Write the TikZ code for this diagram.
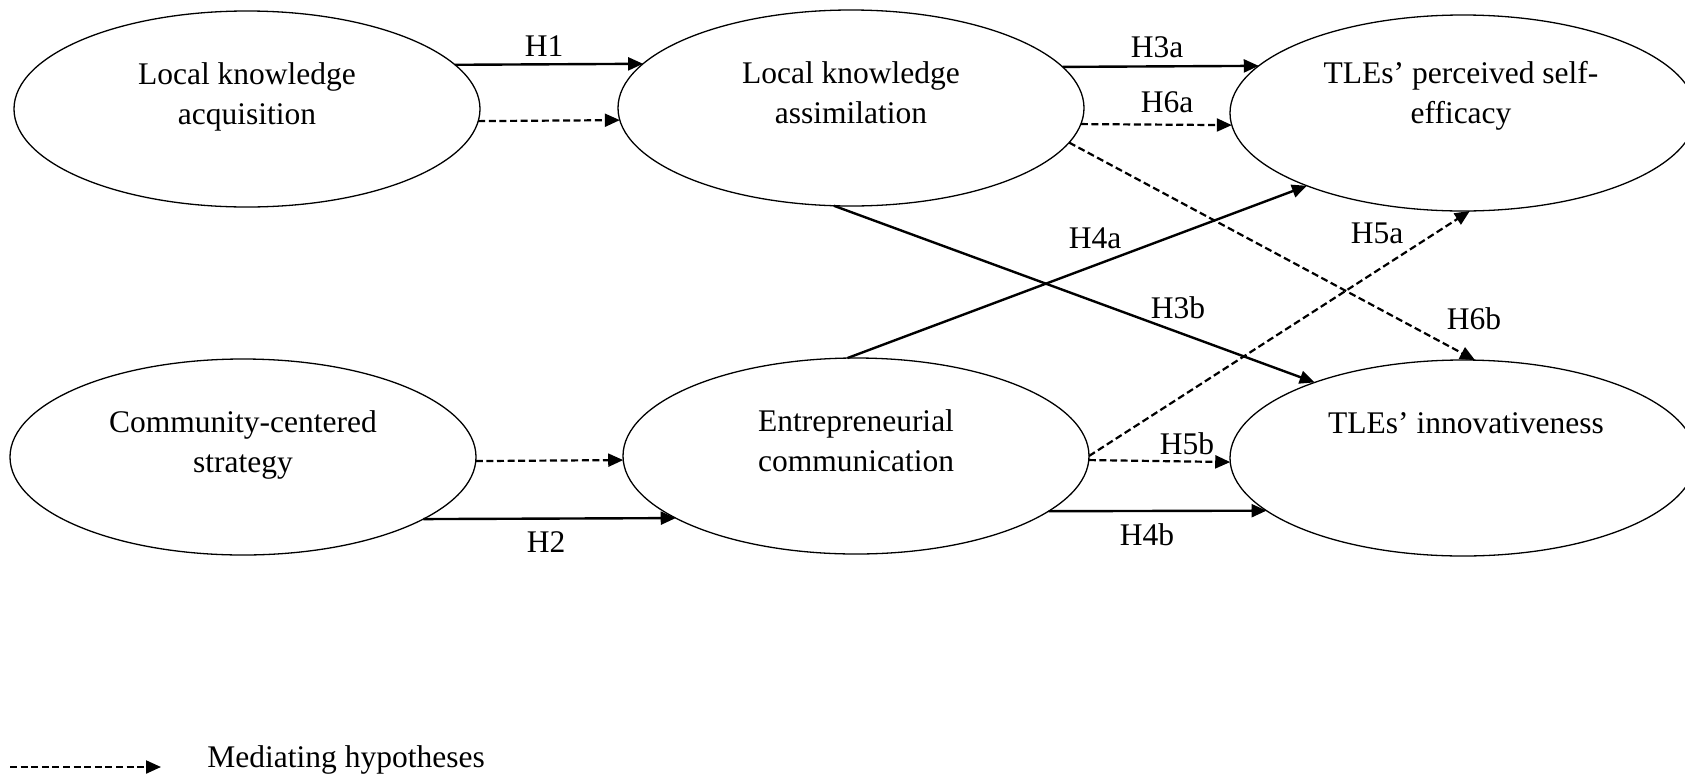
\documentclass[tikz,border=0pt]{standalone}
\usepackage{fontspec}
\setmainfont{Liberation Serif}
\usetikzlibrary{arrows.meta,calc,shapes.geometric}
\begin{document}
\begin{tikzpicture}[x=0.5pt,y=-0.5pt,
  ell/.style={draw, ellipse, line width=0.65pt, minimum width=233pt, minimum height=98pt, inner sep=0pt, outer sep=0pt},
  txt/.style={align=center, font=\fontsize{15.75pt}{20pt}\selectfont, inner sep=0pt},
  lab/.style={font=\fontsize{15.75pt}{20pt}\selectfont, inner sep=0pt},
  tip/.style={-{Triangle[length=7.5pt,width=6.5pt]}},
  sol/.style={tip, line width=1.2pt},
  med/.style={tip, line width=1.1pt, dash pattern=on 3.5pt off 1.8pt}]
\useasboundingbox (0,0) rectangle (1685,777);

% ellipses
\node[ell] (A) at (247,109) {};
\node[ell] (B) at (851,108) {};
\node[ell] (C) at (1463,113) {};
\node[ell] (D) at (243,457) {};
\node[ell] (E) at (856,456) {};
\node[ell] (F) at (1463,458) {};

% texts
\node[txt] (At) at ($(A.center)+(0,-13)$) {\strut Local knowledge\\\strut acquisition};
\node[txt] (Bt) at ($(B.center)+(0,-13)$) {\strut Local knowledge\\\strut assimilation};
\node[txt] (Ct) at ($(C.center)+(-2,-18)$) {\strut TLEs’ perceived self-\\\strut efficacy};
\node[txt] (Dt) at ($(D.center)+(0,-13)$) {\strut Community-centered\\\strut strategy};
\node[txt] (Et) at ($(E.center)+(0,-13)$) {\strut Entrepreneurial\\\strut communication};
\node[txt] (Ft) at ($(F.center)+(3,-13)$) {\strut TLEs’ innovativeness\\\strut};

% connectors
\draw[sol] (A.12.26) -- (B.168.07);
\draw[med] (A.-3.22) -- (B.183.47);
\draw[med] (D.-1.48) -- (E.181.72);
\draw[sol] (D.-19.44) -- (E.199.93);
\draw[sol] (B.11.28) -- (C.167.06);
\draw[med] (B.-4.75) -- (C.183.47);
\draw[med] (B.-9.17) -- (F.83.2);
\draw[sol] (B.260.8) -- (F.153.28);
\draw[sol] (E.95.8) -- (C.205.66);
\draw[med] (E.-0.98) -- (C.274.7);
\draw[med] (E.-1.72) -- (F.181.23);
\draw[sol] (E.-16.74) -- (F.195.92);

% labels
\node[lab] (H1) at (544,46) {H1};
\node[lab] (H2) at (546,542) {H2};
\node[lab] (H3a) at (1157,47) {H3a};
\node[lab] (H6a) at (1167,102) {H6a};
\node[lab] (H6b) at (1474,319) {H6b};
\node[lab] (H3b) at (1178,308) {H3b};
\node[lab] (H4a) at (1095,238) {H4a};
\node[lab] (H5a) at (1377,233) {H5a};
\node[lab] (H5b) at (1187,444) {H5b};
\node[lab] (H4b) at (1147,535) {H4b};

% legend
\coordinate (L1) at (10,767);
\coordinate (L2) at (161,767);
\draw[med] (L1) -- (L2);
\node[lab, anchor=base west] (Lt) at (207,767) {Mediating hypotheses};
\end{tikzpicture}
\end{document}
